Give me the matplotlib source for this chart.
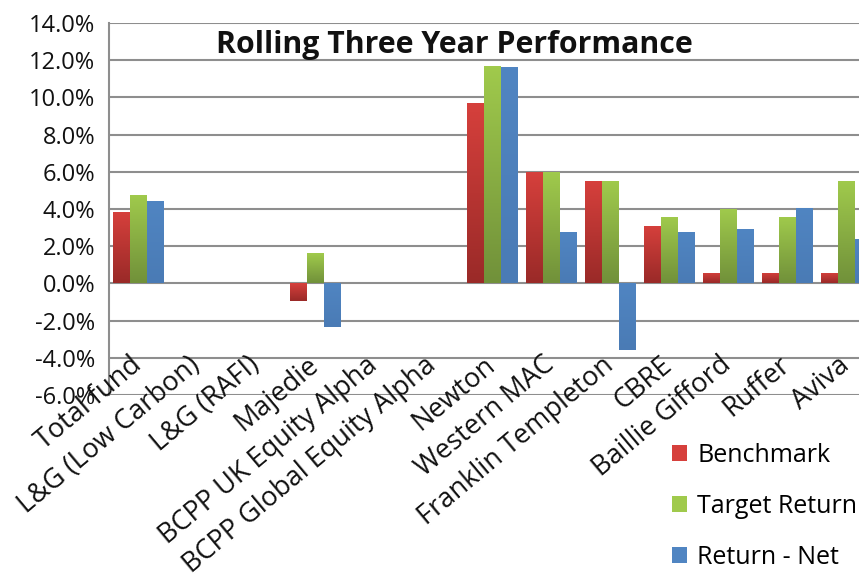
import matplotlib
matplotlib.use("Agg")
import matplotlib.pyplot as plt
import numpy as np
from matplotlib.colors import LinearSegmentedColormap
from matplotlib.patches import Patch

categories = ["Total fund", "L&G (Low Carbon)", "L&G (RAFI)", "Majedie",
              "BCPP UK Equity Alpha", "BCPP Global Equity Alpha", "Newton",
              "Western MAC", "Franklin Templeton", "CBRE", "Baillie Gifford",
              "Ruffer", "Aviva"]
benchmark = [3.83, 0.0, 0.0, -0.95, 0.0, 0.0, 9.72, 6.00, 5.52, 3.07, 0.55, 0.55, 0.55]
target_return = [4.77, 0.0, 0.0, 1.61, 0.0, 0.0, 11.69, 6.00, 5.52, 3.59, 4.02, 3.55, 5.52]
return_net = [4.41, 0.0, 0.0, -2.32, 0.0, 0.0, 11.63, 2.75, -3.57, 2.79, 2.95, 4.04, 2.41]
yticks = [-6, -4, -2, 0, 2, 4, 6, 8, 10, 12, 14]

FONT = "Open Sans"
plt.rcParams['font.family'] = [FONT, 'DejaVu Sans']

W, H = 859, 579
fig = plt.figure(figsize=(W / 100, H / 100), dpi=100)
left_px, top_px, bottom_px = 109, 23, 395
step_px = 59
right_px = left_px + step_px * len(categories)
ax = fig.add_axes([left_px / W, 1 - bottom_px / H, (right_px - left_px) / W, (bottom_px - top_px) / H])

x = np.arange(len(categories))
bw = 0.285
series = [
    ("Benchmark", benchmark, ("#D6403C", "#9A2A28")),
    ("Target Return", target_return, ("#A0CA4C", "#71913A")),
    ("Return - Net", return_net, ("#5085C2", "#4A7BB5")),
]
grad = np.linspace(0, 1, 64).reshape(-1, 1)
for k, (name, vals, (ctop, cbot)) in enumerate(series):
    bars = ax.bar(x + (k - 1) * bw, vals, width=bw, color=ctop, zorder=3, linewidth=0)
    cmap = LinearSegmentedColormap.from_list(name, [cbot, ctop])
    for b in bars:
        h = b.get_height()
        if h == 0:
            continue
        x0 = b.get_x()
        y0, y1 = (0, h) if h > 0 else (h, 0)
        im = ax.imshow(grad, cmap=cmap, aspect='auto', origin='lower',
                       extent=[x0, x0 + bw, y0, y1], zorder=3.5, interpolation='bilinear')
        im.set_clip_path(b)

ax.set_xlim(-0.5, len(categories) - 0.5)
ax.set_ylim(-6, 14)
ax.set_yticks(yticks)
ax.set_yticklabels([f"{v:.1f}%" for v in yticks], fontsize=17, color="#111111")
ax.yaxis.grid(True, color="#8E8E8E", linewidth=1.5, zorder=0)
ax.set_axisbelow(True)
ax.tick_params(axis='y', length=0, pad=10)
ax.tick_params(axis='x', length=0)
ax.set_xticks([])
for s in ["top", "right", "bottom"]:
    ax.spines[s].set_visible(False)
ax.spines["left"].set_color("#8E8E8E")
ax.spines["left"].set_linewidth(1.5)

for i, c in enumerate(categories):
    ax.text(i + 0.07, 0.075, c, transform=ax.get_xaxis_transform(), rotation=40,
            rotation_mode='anchor', ha='right', va='baseline', fontsize=19.5, color="#111111")

fig.text(454 / W, 1 - 45 / H, "Rolling Three Year Performance", ha='center', va='center',
         fontsize=21.8, fontweight='bold', color="#111111")

handles = [Patch(facecolor=s[2][0], edgecolor='none') for s in series]
leg = fig.legend(handles, [s[0] for s in series], loc='upper left',
                 bbox_to_anchor=(649 / W, 1 - 420 / H), frameon=False, fontsize=18,
                 handlelength=0.62, handleheight=0.62, handletextpad=0.4, labelspacing=1.05)

fig.savefig("out.png", dpi=100)
